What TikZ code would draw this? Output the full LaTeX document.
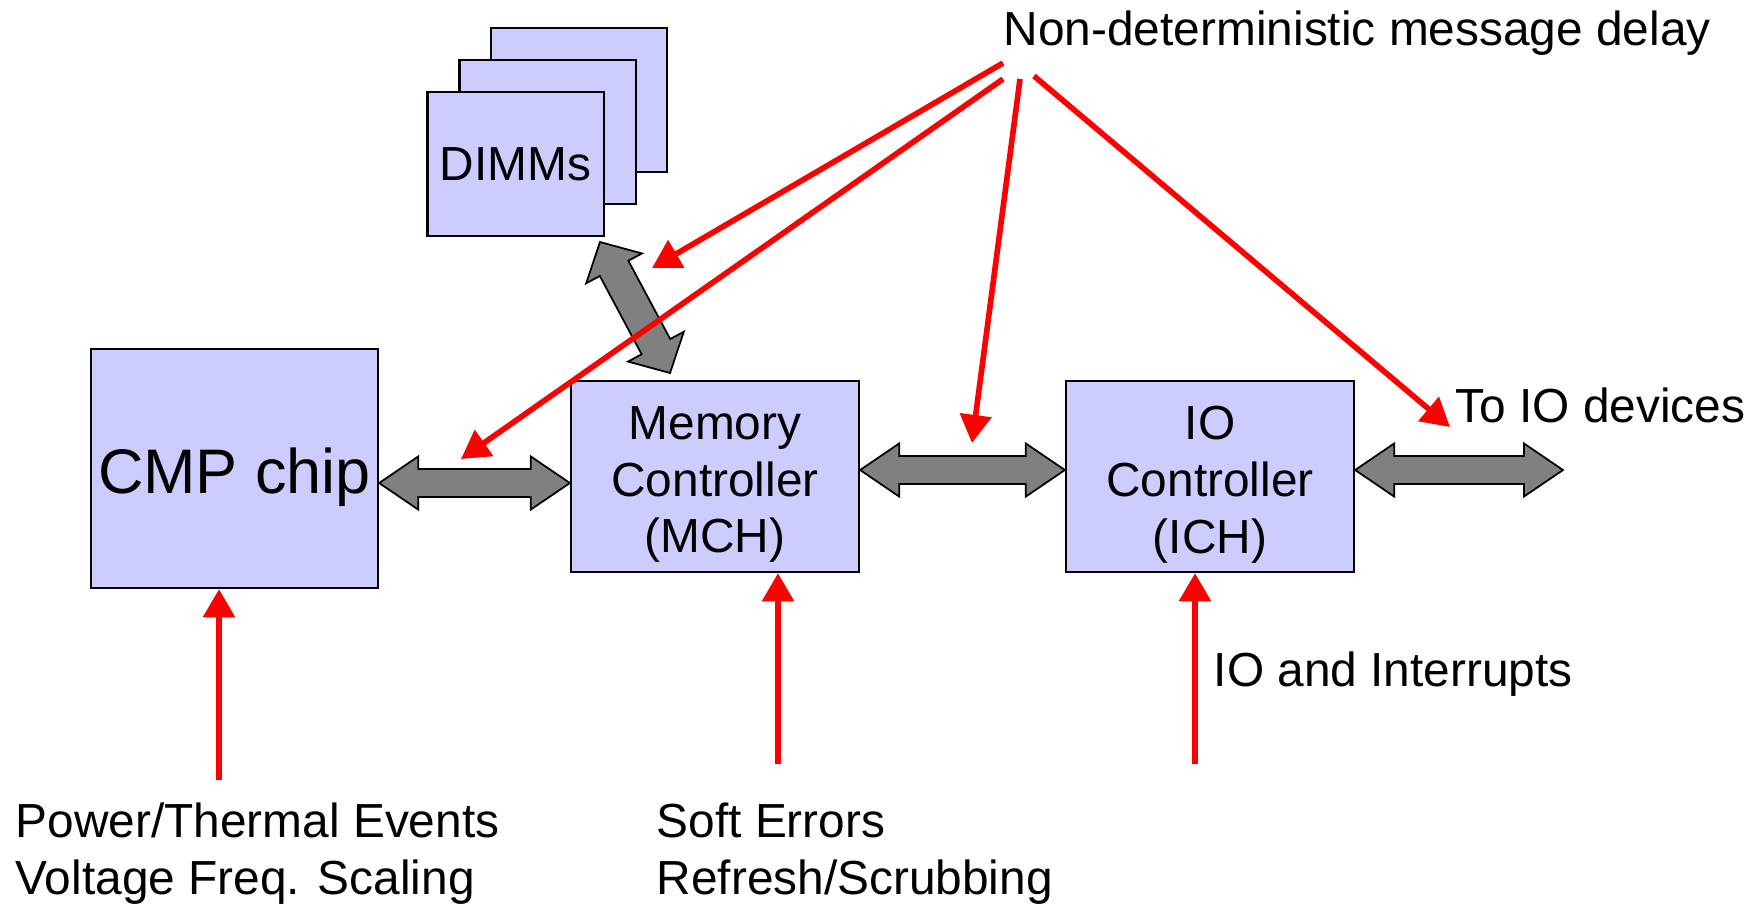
\documentclass[tikz,border=0pt]{standalone}
\usepackage{fontspec}
\setmainfont{Liberation Sans}
\usetikzlibrary{calc,arrows.meta}
\definecolor{boxfill}{HTML}{CCCCFF}
\definecolor{arrgray}{HTML}{808080}
\definecolor{evred}{HTML}{FF0000}
% fat double arrow: from, to, head length, head half width, shaft half width
\newcommand\fatarrow[5]{%
  \coordinate (fa1) at ($(#1)!#3!(#2)$);
  \coordinate (fa2) at ($(#2)!#3!(#1)$);
  \filldraw[fat] (#1) -- ($(fa1)!#4!90:(#2)$) -- ($(fa1)!#5!90:(#2)$)
    -- ($(fa2)!#5!-90:(#1)$) -- ($(fa2)!#4!-90:(#1)$) -- (#2)
    -- ($(fa2)!#4!90:(#1)$) -- ($(fa2)!#5!90:(#1)$)
    -- ($(fa1)!#5!-90:(#2)$) -- ($(fa1)!#4!-90:(#2)$) -- cycle;
}
\begin{document}
\begin{tikzpicture}[x=0.01cm,y=-0.01cm,
  font=\fontsize{13.6}{16}\selectfont,
  box/.style={draw=black, line width=0.6pt, fill=boxfill, inner sep=0pt},
  boxtext/.style={inner sep=0pt, align=center, font=\fontsize{13.6}{16.2}\selectfont},
  fat/.style={draw=black, line width=0.5pt, fill=arrgray, line join=miter},
  evt/.style={draw=evred, line width=1.6pt, -{Triangle[length=8pt,width=8.8pt]}},
  lbl/.style={inner sep=0pt, anchor=base west}]
\useasboundingbox (0,0) rectangle (1763,905);

% DIMMs stack
\node[box, minimum width=1.76cm, minimum height=1.44cm] (dimm3) at (579,100) {};
\node[box, minimum width=1.76cm, minimum height=1.44cm] (dimm2) at (547.5,132) {};
\node[box, minimum width=1.76cm, minimum height=1.44cm] (dimm1) at (515.5,164) {DIMMs};

% main blocks
\node[box, minimum width=2.87cm, minimum height=2.39cm] (cmp) at (234.5,468.5) {};
\node[boxtext, font=\fontsize{17.9}{21}\selectfont] (cmptext) at ($(cmp.center)+(0,9)$) {CMP chip};
\node[box, minimum width=2.88cm, minimum height=1.91cm] (mch) at (715,476.5) {};
\node[boxtext] (mchtext) at ($(mch.center)+(0,8)$) {Memory\\Controller\\(MCH)};
\node[box, minimum width=2.88cm, minimum height=1.91cm] (ich) at (1210,476.5) {};
\node[boxtext] (ichtext) at ($(ich.center)+(0,8)$) {IO\\Controller\\(ICH)};

% labels
\node[lbl] (title) at (1003,45) {Non-deterministic message delay};
\node[lbl] (todev) at (1455,422) {To IO devices};
\node[lbl] (ioint) at (1213,686) {IO and Interrupts};
\node[lbl, align=left] (power) at (15,894) {Power/Thermal Events\\Voltage Freq. Scaling};
\node[lbl, align=left] (soft) at (656,894) {Soft Errors\\Refresh/Scrubbing};

% fat double arrows
\coordinate (a1s) at ($(cmp.east)+(0,14.5)$);
\coordinate (a1e) at ($(mch.west)+(0,6.5)$);
\fatarrow{a1s}{a1e}{11.1pt}{7.55pt}{4pt}
\coordinate (a2s) at ($(mch.east)+(0,-6.5)$);
\coordinate (a2e) at ($(ich.west)+(0,-6.5)$);
\fatarrow{a2s}{a2e}{11.1pt}{7.55pt}{4pt}
\coordinate (a3s) at ($(ich.east)+(0,-6.5)$);
\coordinate (a3e) at (1563,470);
\fatarrow{a3s}{a3e}{11.1pt}{7.55pt}{4pt}
\coordinate (a4s) at (600,242);
\coordinate (a4e) at (670,373);
\fatarrow{a4s}{a4e}{8.5pt}{9pt}{4.6pt}

% red event arrows from the title
\coordinate (r1s) at (1003,63);  \coordinate (r1e) at (652,268);
\coordinate (r2s) at (1003,79);  \coordinate (r2e) at (461,459);
\coordinate (r3s) at (1020,79);  \coordinate (r3e) at (972,443);
\coordinate (r4s) at (1034,76);  \coordinate (r4e) at (1450,427);
\draw[evt] (r1s) -- (r1e);
\draw[evt] (r2s) -- (r2e);
\draw[evt] (r3s) -- (r3e);
\draw[evt] (r4s) -- (r4e);

% red event arrows from below
\coordinate (b1) at (219,780);
\coordinate (b2) at (778,764);
\coordinate (b3) at (1195,764);
\draw[evt] (b1) -- (b1 |- cmp.south);
\draw[evt] (b2) -- (b2 |- mch.south);
\draw[evt] (b3) -- (b3 |- ich.south);
\end{tikzpicture}
\end{document}
